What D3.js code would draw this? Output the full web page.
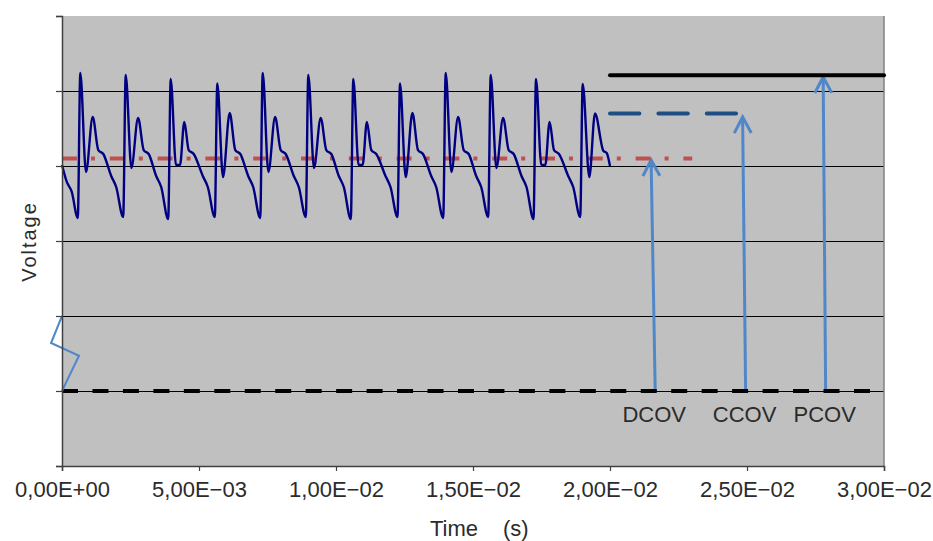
<!DOCTYPE html>
<html><head><meta charset="utf-8">
<script src="https://cdn.jsdelivr.net/npm/d3@7"></script>
<style>
html,body{margin:0;padding:0;background:#fff;}
svg{display:block;font-family:"Liberation Sans",Arial,sans-serif;}
</style></head>
<body>
<svg id="chart" width="933" height="541"></svg>
<script>
// ---- Data ----
// Voltage waveform: time in ms, voltage in arbitrary units (grid step 100)
const waveTimeMs = [0,0.1715,0.3540,0.5766,0.6679,0.8759,1.1204,1.3248,1.5073,1.7956,1.9781,
2.2336,2.3248,2.5328,2.7774,2.9818,3.1642,3.4380,3.6204,
3.8759,3.9672,4.1606,4.3066,4.4635,4.6241,4.8066,5.1387,5.3212,
5.5766,5.6679,5.8759,6.1204,6.3248,6.5073,6.7956,6.9781,
7.2336,7.3248,7.5328,7.7774,7.9818,8.1642,8.4599,8.6423,
8.8978,8.9891,9.1971,9.4416,9.6460,9.8285,10.1022,10.2847,
10.5402,10.6314,10.8248,10.9708,11.1277,11.2883,11.4708,11.8066,11.9891,
12.2445,12.3358,12.5438,12.7883,12.9927,13.1752,13.4745,13.6569,
13.9124,14.0037,14.2117,14.4562,14.6606,14.8431,15.1168,15.2993,
15.5548,15.6460,15.8540,16.0986,16.3029,16.4854,16.7701,16.9526,
17.2081,17.2993,17.4927,17.6387,17.7956,17.9562,18.1387,18.4745,18.6569,
18.9124,19.0036,19.2445,19.4526,19.7555,19.8796,20.0000];
const waveVoltage = [401.3,379.1,365.7,330.7,524,392,465.3,421.3,416,386.7,372,
332,521.3,397.3,464,421.3,416,386.7,372,
329.3,516,401.3,401.3,458.7,421.3,416,386.7,372,
332,510,385.3,470.7,421.3,416,386.7,372,
330.7,524,392,465.3,421.3,416,386.7,372,
332,521.3,397.3,464,421.3,416,386.7,372,
329.3,516,401.3,401.3,458.7,421.3,416,386.7,372,
332,510,385.3,470.7,421.3,416,386.7,372,
330.7,524,392,465.3,421.3,416,386.7,372,
332,521.3,397.3,464,421.3,416,386.7,372,
329.3,516,401.3,401.3,458.7,421.3,416,386.7,372,
332,509.3,385.3,470,420.4,417.3,400];

// Threshold levels
const levelNames = ["DCOV","CCOV","PCOV"];
const levelValues = [410, 470, 521];
const levelStart = [0, 0.020, 0.020];
const levelEnd = [0.0230, 0.0246, 0.030];
const baseValue = 100;

// Arrows (bottom time, top time, tip value)
const arrowBottomT = [0.02165, 0.02495, 0.02787];
const arrowTopT = [0.02150, 0.02484, 0.02778];
const arrowTipV = [408, 465.3, 518.7];

// Axis break symbol
const breakT = [0, -0.0004, 0.00062, 0];
const breakV = [200, 164, 147, 100];

// Ticks
const xTicks = [0, 0.005, 0.010, 0.015, 0.020, 0.025, 0.030];
const xTickLabels = ["0,00E+00","5,00E\u221203","1,00E\u221202","1,50E\u221202","2,00E\u221202","2,50E\u221202","3,00E\u221202"];
const yTicks = [0,100,200,300,400,500,600];

// ---- Drawing ----
const svg = d3.select("#chart");
const L = 62, R = 884, T = 16, B = 466;
const x = d3.scaleLinear().domain([0, 0.03]).range([L, R]);
const y = d3.scaleLinear().domain([0, 600]).range([B, T]);

svg.append("rect").attr("x", L).attr("y", T).attr("width", R - L).attr("height", B - T).attr("fill", "#c0c0c0");

// gridlines
svg.append("g").selectAll("line").data(yTicks.filter(d => d > 0 && d < 600)).join("line")
  .attr("x1", L).attr("x2", R).attr("y1", d => y(d) + 0.5).attr("y2", d => y(d) + 0.5)
  .attr("stroke", "#000").attr("stroke-width", 1);

// right border
svg.append("line").attr("x1", R).attr("x2", R).attr("y1", T).attr("y2", B).attr("stroke", "#808080").attr("stroke-width", 1.5);

const line = d3.line().x(d => x(d[0])).y(d => y(d[1]));

// arrows
const arrowColor = "#4f87c8";
const ag = svg.append("g");
arrowBottomT.forEach((bt, i) => {
  const bx = x(bt), by = y(baseValue), tx = x(arrowTopT[i]), ty = y(arrowTipV[i]);
  const len = Math.hypot(tx - bx, ty - by), ux = (tx - bx) / len, uy = (ty - by) / len;
  const px = -uy, py = ux;
  ag.append("line").attr("x1", bx).attr("y1", by).attr("x2", tx).attr("y2", ty)
    .attr("stroke", arrowColor).attr("stroke-width", 3);
  const a1 = [tx - ux * 16 + px * 8.5, ty - uy * 16 + py * 8.5];
  const a2 = [tx - ux * 16 - px * 8.5, ty - uy * 16 - py * 8.5];
  ag.append("path").attr("d", `M${a1[0]},${a1[1]}L${tx},${ty}L${a2[0]},${a2[1]}`)
    .attr("fill", "none").attr("stroke", arrowColor).attr("stroke-width", 3);
});

// baseline black dashed
svg.append("path").attr("d", line([[0, baseValue], [0.03, baseValue]]))
  .attr("stroke", "#000").attr("stroke-width", 4).attr("fill", "none")
  .attr("stroke-dasharray", "16,14.46");

// DCOV red dash-dot
svg.append("path").attr("d", line([[levelStart[0], levelValues[0]], [levelEnd[0], levelValues[0]]]))
  .attr("stroke", "#c0504d").attr("stroke-width", 4).attr("fill", "none")
  .attr("stroke-dasharray", "15,14,4,14.8");

// waveform
svg.append("path").datum(waveTimeMs.map((t, i) => [t / 1000, waveVoltage[i]]))
  .attr("d", d3.line().x(d => x(d[0])).y(d => y(d[1])).curve(d3.curveMonotoneX))
  .attr("fill", "none").attr("stroke", "#000080").attr("stroke-width", 2.4).attr("stroke-linejoin", "round");

// CCOV blue dashed
svg.append("path").attr("d", line([[levelStart[1], levelValues[1]], [levelEnd[1], levelValues[1]]]))
  .attr("stroke", "#1f4e85").attr("stroke-width", 4).attr("fill", "none")
  .attr("stroke-linecap", "round").attr("stroke-dasharray", "29.4,19");

// PCOV black solid
svg.append("path").attr("d", line([[levelStart[2], levelValues[2]], [levelEnd[2], levelValues[2]]]))
  .attr("stroke", "#000").attr("stroke-width", 4).attr("fill", "none").attr("stroke-linecap", "round");

// axis break
svg.append("path").attr("d", line(breakT.map((t, i) => [t, breakV[i]])))
  .attr("fill", "none").attr("stroke", arrowColor).attr("stroke-width", 2);

// labels
svg.append("g").selectAll("text").data(levelNames).join("text")
  .attr("x", (d, i) => x(arrowBottomT[i]) - 1).attr("y", y(baseValue) + 31)
  .attr("text-anchor", "middle").attr("font-size", 22).attr("fill", "#2b2b2b")
  .text(d => d);

// axes
const xAxis = d3.axisBottom(x).tickValues(xTicks).tickFormat((d, i) => xTickLabels[i]).tickSize(5).tickPadding(10);
const gx = svg.append("g").attr("transform", `translate(0,${B})`).call(xAxis);
gx.select(".domain").attr("stroke", "#404040").attr("stroke-width", 1.5);
gx.selectAll(".tick line").attr("stroke", "#404040").attr("stroke-width", 1.2);
gx.selectAll("text").attr("font-size", 22).attr("fill", "#2b2b2b").attr("font-family", "'Liberation Sans',Arial,sans-serif");

const yAxis = d3.axisLeft(y).tickValues(yTicks).tickFormat("").tickSize(6);
const gy = svg.append("g").attr("transform", `translate(${L},0)`).call(yAxis);
gy.select(".domain").attr("stroke", "#404040").attr("stroke-width", 1.5);
gy.selectAll(".tick line").attr("stroke", "#404040").attr("stroke-width", 1.2);

// axis titles
const xt = svg.append("text").attr("y", 536).attr("font-size", 22).attr("fill", "#2b2b2b");
xt.append("tspan").attr("x", 430).text("Time");
xt.append("tspan").attr("x", 503).text("(s)");
svg.append("text").attr("transform", "translate(36,241.5) rotate(-90)").attr("text-anchor", "middle")
  .attr("font-size", 20).attr("letter-spacing", 2).attr("fill", "#2b2b2b").text("Voltage");
</script>
</body></html>
